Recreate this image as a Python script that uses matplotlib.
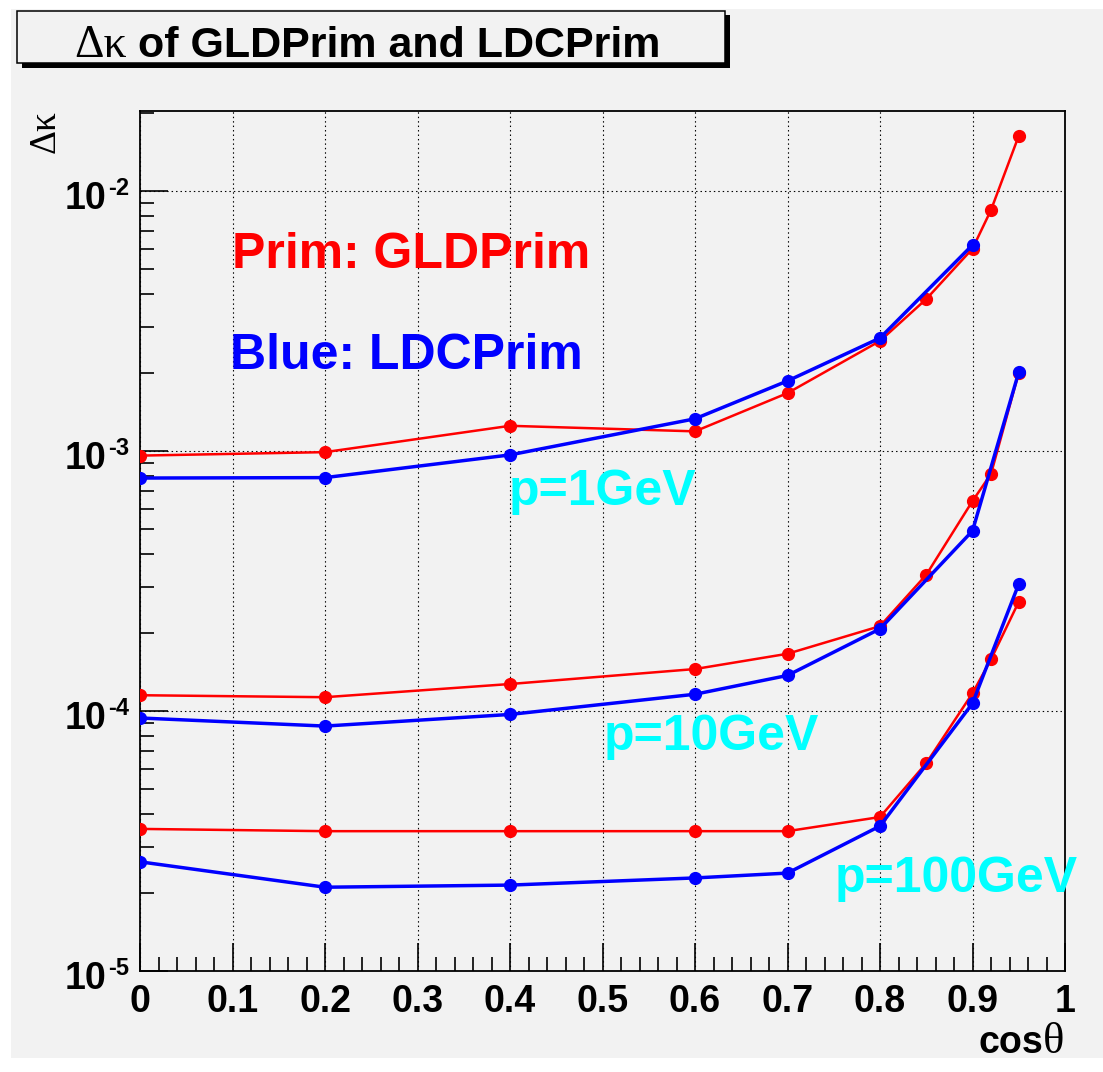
"""Delta kappa vs cos(theta) for GLDPrim and LDCPrim (ROOT-style plot)."""

import math

import matplotlib

matplotlib.use("Agg")
import matplotlib.pyplot as plt
from matplotlib.patches import Rectangle
from matplotlib.ticker import FixedLocator, FuncFormatter, LogLocator, MultipleLocator

# --- data ------------------------------------------------------------------
cos_gld = [0.0, 0.2, 0.4, 0.6, 0.7, 0.8, 0.85, 0.9, 0.92, 0.95]
gld_1gev = [9.6e-4, 9.9e-4, 1.25e-3, 1.19e-3, 1.67e-3, 2.65e-3, 3.84e-3, 6.0e-3, 8.45e-3, 1.63e-2]
gld_10gev = [1.15e-4, 1.13e-4, 1.27e-4, 1.45e-4, 1.66e-4, 2.12e-4, 3.34e-4, 6.42e-4, 8.16e-4, 2.0e-3]
gld_100gev = [3.52e-5, 3.45e-5, 3.45e-5, 3.45e-5, 3.45e-5, 3.91e-5, 6.3e-5, 1.17e-4, 1.58e-4, 2.63e-4]

cos_ldc_1gev = [0.0, 0.2, 0.4, 0.6, 0.7, 0.8, 0.9]
ldc_1gev = [7.87e-4, 7.9e-4, 9.66e-4, 1.33e-3, 1.86e-3, 2.72e-3, 6.2e-3]
cos_ldc = [0.0, 0.2, 0.4, 0.6, 0.7, 0.8, 0.9, 0.95]
ldc_10gev = [9.4e-5, 8.75e-5, 9.7e-5, 1.16e-4, 1.37e-4, 2.07e-4, 4.93e-4, 2.01e-3]
ldc_100gev = [2.63e-5, 2.1e-5, 2.14e-5, 2.28e-5, 2.38e-5, 3.61e-5, 1.07e-4, 3.08e-4]

momentum_labels = ["p=1GeV", "p=10GeV", "p=100GeV"]
y_decades = [1e-5, 1e-4, 1e-3, 1e-2]

W, H = 1103, 1072
BG = "#f2f2f2"
SANS = "Liberation Sans"
SERIF = "Liberation Serif"


def px(x, y):
    """Pixel position (from top-left) to figure fraction."""
    return x / W, 1 - y / H


fig = plt.figure(figsize=(W / 100, H / 100), dpi=100, facecolor="white")

# canvas panel
fig.patches.append(
    Rectangle(px(11, 1058), (W - 11) / W, (1058 - 9) / H, transform=fig.transFigure,
              facecolor=BG, edgecolor="none", zorder=-5)
)

ax = fig.add_axes([140 / W, 1 - 971 / H, 925 / W, 860 / H])
ax.set_facecolor(BG)
ax.set_xlim(0, 1)
ax.set_yscale("log")
ax.set_ylim(1e-5, 10 ** (-5 + 860 / 260))

for s in ax.spines.values():
    s.set_linewidth(1.3)
    s.set_color("black")

ax.xaxis.set_major_locator(MultipleLocator(0.1))
ax.xaxis.set_minor_locator(MultipleLocator(0.02))
ax.xaxis.set_major_formatter(FuncFormatter(lambda v, _: f"{v:g}"))
ax.yaxis.set_major_locator(FixedLocator(y_decades))
ax.yaxis.set_minor_locator(LogLocator(base=10, subs=range(2, 10)))
ax.yaxis.set_minor_formatter(FuncFormatter(lambda v, _: ""))

ax.tick_params(which="both", direction="in", top=False, right=False, color="black", width=1.2)
ax.tick_params(which="major", length=20, labelsize=27)
ax.tick_params(which="minor", length=10)
ax.tick_params(axis="x", which="major", pad=9)
ax.tick_params(axis="y", labelleft=False)
for lab in ax.get_xticklabels():
    lab.set_fontfamily(SANS)
    lab.set_fontweight("bold")

# ROOT-style "10" with a small raised exponent for each decade
ytrans = ax.get_yaxis_transform()
for v in y_decades:
    ax.annotate("10", xy=(0, v), xycoords=ytrans, xytext=(-24, -6),
                textcoords="offset points", ha="right", va="center",
                fontsize=27, fontfamily=SANS, fontweight="bold", annotation_clip=False)
    ax.annotate(f"{round(math.log10(v))}", xy=(0, v), xycoords=ytrans, xytext=(-7.8, 1.5),
                textcoords="offset points", ha="right", va="center",
                fontsize=17, fontfamily=SANS, fontweight="bold", annotation_clip=False)

ax.grid(True, which="major", color="black", linestyle=(0, (1.3, 2.7)), linewidth=0.8)
ax.set_axisbelow(True)

# curves: red = GLDPrim, blue = LDCPrim
red_kw = dict(color="#ff0000", lw=1.8, marker="o", ms=8.5, mec="#ff0000", zorder=3)
blue_kw = dict(color="#0000ff", lw=2.5, marker="o", ms=8.5, mec="#0000ff", zorder=4)
ax.plot(cos_gld, gld_1gev, **red_kw)
ax.plot(cos_gld, gld_10gev, **red_kw)
ax.plot(cos_gld, gld_100gev, **red_kw)
ax.plot(cos_ldc_1gev, ldc_1gev, **blue_kw)
ax.plot(cos_ldc, ldc_10gev, **blue_kw)
ax.plot(cos_ldc, ldc_100gev, **blue_kw)

# annotations
ax.text(0.099, 5.06e-3, "Prim: GLDPrim", color="#ff0000", fontsize=36,
        fontfamily=SANS, fontweight="bold", va="baseline", ha="left", zorder=5)
ax.text(0.097, 2.07e-3, "Blue: LDCPrim", color="#0000ff", fontsize=36,
        fontfamily=SANS, fontweight="bold", va="baseline", ha="left", zorder=5)
label_pos = [(0.399, 6.2e-4), (0.501, 7.08e-5), (0.751, 2.01e-5)]
for (lx, ly), txt in zip(label_pos, momentum_labels):
    ax.text(lx, ly, txt, color="#00ffff", fontsize=36, fontfamily=SANS,
            fontweight="bold", va="baseline", ha="left", zorder=5, clip_on=False)

# axis titles
fig.text(*px(45, 110), "Δκ", rotation=90, fontsize=27, fontfamily=SERIF,
         ha="center", va="top")
fig.text(*px(1064, 1053), "θ", fontsize=32, fontfamily=SERIF, ha="right", va="baseline")
fig.text(*px(1043, 1053), "cos", fontsize=27, fontfamily=SANS, fontweight="bold",
         ha="right", va="baseline")

# title box with shadow
fig.patches.append(
    Rectangle(px(22, 68), 708 / W, 53 / H, transform=fig.transFigure,
              facecolor="black", edgecolor="none", zorder=1)
)
fig.patches.append(
    Rectangle(px(17, 63), 708 / W, 52 / H, transform=fig.transFigure,
              facecolor=BG, edgecolor="black", linewidth=1.1, zorder=2)
)
fig.text(*px(74, 57), "Δκ", fontsize=33, fontfamily=SERIF, ha="left", va="baseline")
fig.text(*px(138, 57), "of GLDPrim and LDCPrim", fontsize=31, fontfamily=SANS,
         fontweight="bold", ha="left", va="baseline")

fig.savefig("out.png", dpi=100, facecolor="white")
